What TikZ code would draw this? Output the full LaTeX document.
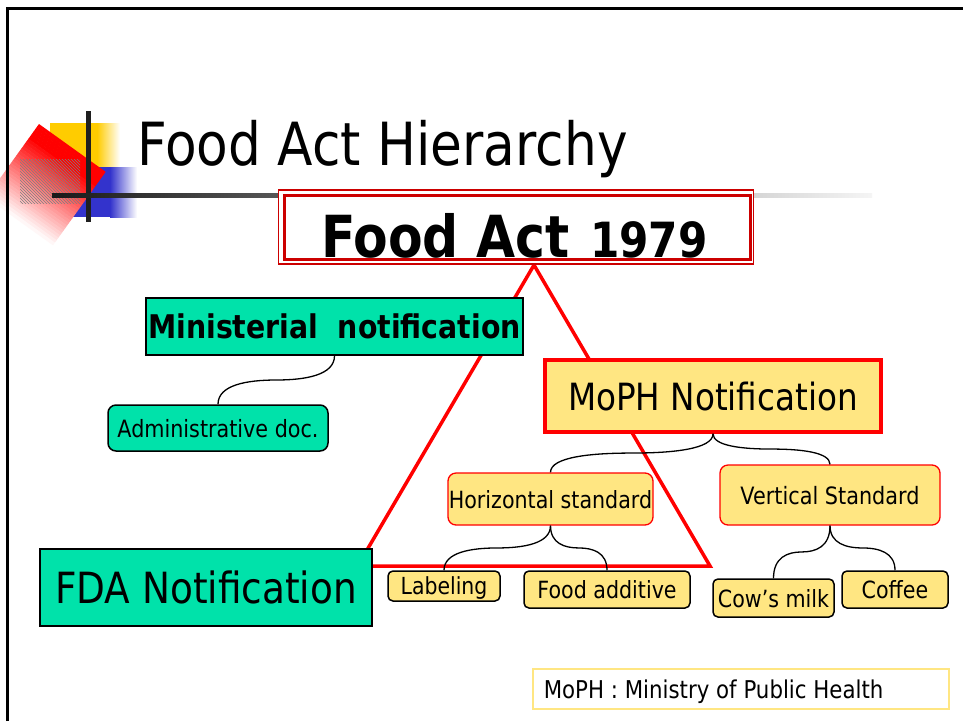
\documentclass[tikz,border=0pt]{standalone}
\usepackage{fontspec}
\setmainfont{DejaVu Sans}[FakeStretch=0.87]
\usetikzlibrary{calc,patterns}
\newcommand\fsz[1]{\fontsize{#1}{#1}\selectfont}
\definecolor{boxgreen}{RGB}{0,226,170}
\definecolor{boxyellow}{RGB}{255,230,130}
\definecolor{darkred}{RGB}{204,0,0}
\definecolor{logoyellow}{RGB}{255,204,0}
\definecolor{logoblue}{RGB}{51,51,204}
\newcommand\bracecon[3]{%
  \coordinate (#3) at ($(#1.south)!0.5!(#2.north)$);
  \draw[con] (#1.south) .. controls ($(#1.south)!0.8!(#1.south|-#3)$) and ($(#3)!0.5!(#1.south|-#3)$) .. (#3)
     .. controls ($(#3)!0.5!(#2.north|-#3)$) and ($(#2.north)!0.8!(#2.north|-#3)$) .. (#2.north);}
\begin{document}
\begin{tikzpicture}[x=1pt,y=-1pt,
  box/.style={draw, line width=1.5pt, inner sep=0pt, text depth=0pt, align=center},
  greenbox/.style={box, fill=boxgreen},
  ybox/.style={box, fill=boxyellow, rounded corners=5pt},
  redbox/.style={box, fill=boxyellow, draw=red, line width=1.3pt, rounded corners=8pt},
  con/.style={draw=black, line width=1.3pt},
  tri/.style={draw=red, line width=3.5pt, line join=miter}]
\useasboundingbox (0,0) rectangle (963,721);
\fill[white] (0,0) rectangle (963,721);
% logo
\fill[logoyellow] (50,123) rectangle (97.5,167);
\shade[left color=logoyellow, right color=white] (97,123) rectangle (120,167);
\fill[logoblue] (62,167) rectangle (110.5,217);
\shade[left color=logoblue, right color=white] (110,167) rectangle (137,217);
\begin{scope}[shift={(39,124)}, x={(0.813pt,-0.583pt)}, y={(-0.583pt,-0.813pt)}]
  \foreach \i [evaluate=\i as \pc using {int(100*min(1,(90-3*\i)/75))}] in {0,...,29}
    \fill[red!\pc!white] (0,3*\i) -- (82,3*\i) -- (82,3*\i+3.4) -- (0,3*\i+3.4) -- cycle;
\end{scope}
\fill[pattern=north west lines, pattern color=gray] (20,159) rectangle (80,203);
\fill[black!88] (86,111) rectangle (90.5,222);
\shade[left color=black!90, middle color=black!50, right color=black!4] (52,193) rectangle (872,197.5);
% frame
\draw[line width=3pt] (7.5,721) -- (7.5,8.5) -- (963,8.5);
% title
\node[anchor=base west, inner sep=0pt] (title) at (137,165) {\fsz{59.5}Food Act Hierarchy};
% triangle
\draw[tri] (534,265) -- (710,566) -- (357.6,566) -- cycle;
% Food Act box
\node[draw=darkred, line width=1.3pt, fill=white, minimum width=475pt, minimum height=74pt, inner sep=0pt] (actbox) at (516,227) {};
\node[anchor=base west, inner sep=0pt] (acttxt) at (321,257) {\bfseries\fsz{58}Food Act\hspace{0.35em}\fsz{48.5}1979};
\draw[darkred, line width=3pt] (284,195) rectangle (750,259);
% left side
\node[greenbox, minimum width=377pt, minimum height=57pt] (min) at (334.5,326.5) {\bfseries\fsz{32.6}Ministerial~~notification};
\node[greenbox, rounded corners=8pt, minimum width=220pt, minimum height=46pt] (adm) at (218,428) {\fsz{23.8}Administrative doc.};
\node[greenbox, minimum width=332pt, minimum height=77pt] (fda) at (206,587.5) {\fsz{43}FDA Notification};
% right side
\node[box, fill=boxyellow, draw=red, line width=3.5pt, minimum width=336pt, minimum height=72pt] (moph) at (713,396) {\fsz{37.5}MoPH Notification};
\node[redbox, minimum width=205pt, minimum height=52pt] (hs) at (550.5,499) {\fsz{23.7}Horizontal standard};
\node[redbox, minimum width=220pt, minimum height=60pt] (vs) at (830,495) {\fsz{23.9}Vertical Standard};
\node[ybox, minimum width=112pt, minimum height=30pt] (lab) at (444,586) {\fsz{23.5}Labeling};
\node[ybox, minimum width=166pt, minimum height=37pt] (fad) at (607,589.5) {\fsz{23.7}Food additive};
\node[ybox, minimum width=121pt, minimum height=38pt] (cow) at (773.5,598) {\fsz{23.7}Cow’s milk};
\node[ybox, minimum width=106pt, minimum height=37pt] (cof) at (895,589.5) {\fsz{23.7}Coffee};
% connectors
\bracecon{min}{adm}{m1}
\bracecon{moph}{hs}{m2}
\bracecon{moph}{vs}{m3}
\bracecon{hs}{lab}{m4}
\bracecon{hs}{fad}{m5}
\bracecon{vs}{cow}{m6}
\bracecon{vs}{cof}{m7}
% legend
\node[draw=boxyellow, line width=1.5pt, minimum height=40pt, inner xsep=11pt, inner ysep=0pt, text depth=0pt, anchor=west] (leg) at (532,689) {\makebox[394pt][l]{\fsz{24.5}MoPH : Ministry of Public Health}};
\end{tikzpicture}
\end{document}
